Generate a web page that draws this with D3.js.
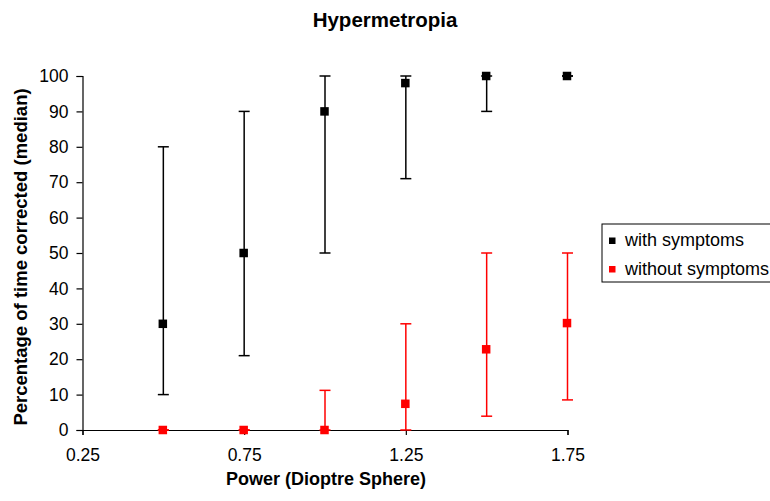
<!DOCTYPE html>
<html>
<head>
<meta charset="utf-8">
<script src="https://cdn.jsdelivr.net/npm/d3@7/dist/d3.min.js"></script>
<style>
  body { margin: 0; background: #fff; }
  svg { display: block; font-family: "Liberation Sans", Arial, sans-serif; }
</style>
</head>
<body>
<div id="chart"></div>
<script>
  // Power (dioptre sphere) for each measured group
  const powers = [0.5, 0.75, 1.0, 1.25, 1.5, 1.75];

  // With symptoms: median and range
  const withMedian = [30, 50, 90, 98, 100, 100];
  const withLow = [10, 21, 50, 71, 90, 100];
  const withHigh = [80, 90, 100, 100, 100, 100];

  // Without symptoms: median and range
  const withoutMedian = [0, 0, 0, 7.4, 22.8, 30.2];
  const withoutLow = [0, 0, 0, 0, 3.9, 8.5];
  const withoutHigh = [0, 0, 11.2, 30, 50, 50];

  const xTicks = [0.25, 0.75, 1.25, 1.75];
  const yTicks = [0, 10, 20, 30, 40, 50, 60, 70, 80, 90, 100];

  const seriesNames = ['with symptoms', 'without symptoms'];
  const seriesColors = ['#000000', '#ff0000'];

  const width = 770, height = 501;

  const svg = d3.select('#chart')
    .append('svg')
    .attr('width', width)
    .attr('height', height);

  const x = d3.scaleLinear().domain([0.25, 1.75]).range([82.5, 567.5]);
  const y = d3.scaleLinear().domain([0, 100]).range([430, 76]);

  // Title
  svg.append('text')
    .attr('x', 385)
    .attr('y', 26.5)
    .attr('text-anchor', 'middle')
    .style('font-size', '20.5px')
    .style('font-weight', 'bold')
    .text('Hypermetropia');

  // Y axis
  const yAxis = svg.append('g')
    .attr('transform', 'translate(82.5,0)')
    .call(d3.axisLeft(y).tickValues(yTicks).tickSize(6).tickPadding(8).tickFormat(d3.format('d')));
  yAxis.select('.domain').attr('stroke', '#000').attr('stroke-width', 1.2);
  yAxis.selectAll('.tick line').attr('stroke', '#000').attr('stroke-width', 1.2);
  yAxis.selectAll('.tick text')
    .style('font-size', '17.5px')
    .style('font-family', '"Liberation Sans", Arial, sans-serif')
    .attr('fill', '#000');

  // X axis
  const xAxis = svg.append('g')
    .attr('transform', 'translate(0,430)')
    .call(d3.axisBottom(x).tickValues(xTicks).tickSize(5).tickPadding(14).tickFormat(d3.format('.2f')));
  xAxis.select('.domain').attr('stroke', '#000').attr('stroke-width', 1.2);
  xAxis.selectAll('.tick line').attr('stroke', '#000').attr('stroke-width', 1.2);
  xAxis.selectAll('.tick text')
    .style('font-size', '17.5px')
    .style('font-family', '"Liberation Sans", Arial, sans-serif')
    .attr('fill', '#000');

  // Axis titles
  svg.append('text')
    .attr('x', 326)
    .attr('y', 485)
    .attr('text-anchor', 'middle')
    .style('font-size', '18px')
    .style('font-weight', 'bold')
    .text('Power (Dioptre Sphere)');

  svg.append('text')
    .attr('transform', 'translate(26.5,257) rotate(-90)')
    .attr('text-anchor', 'middle')
    .style('font-size', '18.5px')
    .style('font-weight', 'bold')
    .text('Percentage of time corrected (median)');

  // Build series from the arrays
  const series = [
    { name: seriesNames[0], color: seriesColors[0],
      points: powers.map((p, i) => ({ p: p, m: withMedian[i], lo: withLow[i], hi: withHigh[i] })) },
    { name: seriesNames[1], color: seriesColors[1],
      points: powers.map((p, i) => ({ p: p, m: withoutMedian[i], lo: withoutLow[i], hi: withoutHigh[i] })) }
  ];

  const capHalf = 5.5;
  const markerSize = 8.5;

  series.forEach(function(s) {
    const g = svg.append('g').attr('class', 'series');

    // vertical range lines
    g.selectAll('line.range')
      .data(s.points)
      .enter()
      .append('line')
      .attr('class', 'range')
      .attr('x1', d => x(d.p))
      .attr('x2', d => x(d.p))
      .attr('y1', d => y(d.lo))
      .attr('y2', d => y(d.hi))
      .attr('stroke', s.color)
      .attr('stroke-width', 1.5);

    // caps
    ['lo', 'hi'].forEach(function(k) {
      g.selectAll('line.cap-' + k)
        .data(s.points)
        .enter()
        .append('line')
        .attr('class', 'cap-' + k)
        .attr('x1', d => x(d.p) - capHalf)
        .attr('x2', d => x(d.p) + capHalf)
        .attr('y1', d => y(d[k]))
        .attr('y2', d => y(d[k]))
        .attr('stroke', s.color)
        .attr('stroke-width', 1.5);
    });

    // square markers
    g.selectAll('rect.marker')
      .data(s.points)
      .enter()
      .append('rect')
      .attr('class', 'marker')
      .attr('x', d => x(d.p) - markerSize / 2 - 0.5)
      .attr('y', d => y(d.m) - markerSize / 2)
      .attr('width', markerSize)
      .attr('height', markerSize)
      .attr('fill', s.color);
  });

  // Legend (runs off the right edge, as in the original)
  const legend = svg.append('g').attr('transform', 'translate(602,224)');
  legend.append('rect')
    .attr('x', 0)
    .attr('y', 0)
    .attr('width', 180)
    .attr('height', 58)
    .attr('fill', '#fff')
    .attr('stroke', '#000')
    .attr('stroke-width', 1);

  series.forEach(function(s, i) {
    const row = legend.append('g').attr('transform', 'translate(0,' + (16.5 + i * 28.5) + ')');
    row.append('rect')
      .attr('x', 7)
      .attr('y', -3)
      .attr('width', 6.5)
      .attr('height', 6.5)
      .attr('fill', s.color);
    row.append('text')
      .attr('x', 23)
      .attr('y', 5.5)
      .style('font-size', '18px')
      .text(s.name);
  });
</script>
</body>
</html>
